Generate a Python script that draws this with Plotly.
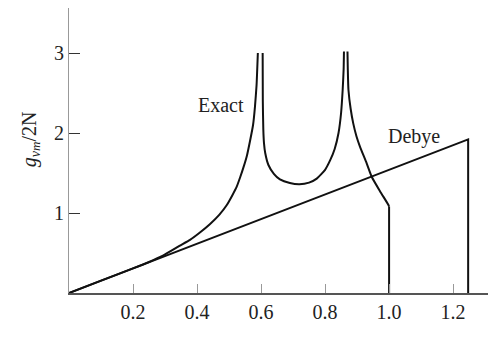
import plotly.graph_objects as go

# Exact spectrum: three branches
exact1_x = [0.0, 0.10, 0.20, 0.25, 0.29, 0.316, 0.345, 0.378, 0.41, 0.44, 0.47, 0.493, 0.51, 0.524, 0.535, 0.545, 0.556, 0.566, 0.575, 0.581, 0.586, 0.590]
exact1_y = [0.0, 0.154, 0.308, 0.388, 0.46, 0.52, 0.59, 0.665, 0.76, 0.86, 0.98, 1.10, 1.22, 1.33, 1.45, 1.57, 1.72, 1.91, 2.10, 2.33, 2.60, 3.0]

exact2_x = [0.605, 0.6055, 0.607, 0.609, 0.613, 0.623, 0.640, 0.659, 0.690, 0.720, 0.750, 0.774, 0.800, 0.816, 0.830, 0.842, 0.850, 0.855, 0.858, 0.859]
exact2_y = [3.0, 2.40, 2.05, 1.88, 1.75, 1.60, 1.49, 1.42, 1.375, 1.36, 1.38, 1.43, 1.54, 1.66, 1.80, 2.0, 2.25, 2.54, 2.80, 3.02]

exact3_x = [0.870, 0.871, 0.873, 0.880, 0.888, 0.898, 0.909, 0.930, 0.946, 0.972, 0.998, 1.0]
exact3_y = [3.02, 2.80, 2.54, 2.30, 2.12, 1.96, 1.83, 1.62, 1.45, 1.27, 1.10, 1.08]

# Debye spectrum
debye_x = [0.0, 1.247, 1.247]
debye_y = [0.0, 1.92, 0.0]

x_ticks = [0.2, 0.4, 0.6, 0.8, 1.0, 1.2]
x_tick_text = ["0.2", "0.4", "0.6", "0.8", "1.0", "1.2"]
y_ticks = [1, 2, 3]
y_tick_text = ["1", "2", "3"]

FONT = "Liberation Serif"
INK = "#111111"
LW = 2.0

fig = go.Figure()
for xs, ys in [(exact1_x, exact1_y), (exact2_x, exact2_y), (exact3_x, exact3_y)]:
    fig.add_trace(go.Scatter(x=xs, y=ys, mode="lines",
                             line=dict(color=INK, width=LW, shape="spline", smoothing=0.5),
                             showlegend=False, hoverinfo="skip"))
# vertical drop of the exact curve at its cutoff
fig.add_trace(go.Scatter(x=[exact3_x[-1], exact3_x[-1]], y=[exact3_y[-1], 0],
                         mode="lines", line=dict(color=INK, width=LW),
                         showlegend=False, hoverinfo="skip"))
fig.add_trace(go.Scatter(x=debye_x, y=debye_y, mode="lines",
                         line=dict(color=INK, width=LW),
                         showlegend=False, hoverinfo="skip"))

fig.add_annotation(x=0.475, y=2.35, text="Exact", showarrow=False,
                   font=dict(family=FONT, size=20, color="#222"), xanchor="center", yanchor="middle")
fig.add_annotation(x=1.078, y=1.96, text="Debye", showarrow=False,
                   font=dict(family=FONT, size=20, color="#222"), xanchor="center", yanchor="middle")

fig.add_annotation(xref="paper", yref="paper", x=-0.093, y=0.54,
                   text="<i>g</i><sub><i>ν</i><span style='font-size:13px'><i>m</i></span></sub>/2N",
                   textangle=-90, showarrow=False,
                   font=dict(family=FONT, size=20, color="#222"), xanchor="center", yanchor="middle")
fig.add_annotation(x=0.606, y=-0.74, text="<i>ν</i> / <i>ν</i><sub><i>m</i></sub>",
                   showarrow=False, font=dict(family=FONT, size=18, color="#222"),
                   xanchor="center", yanchor="middle")

fig.update_layout(
    width=488, height=358,
    margin=dict(l=69, r=0, t=8, b=65),
    paper_bgcolor="white", plot_bgcolor="white",
    xaxis=dict(range=[0, 1.309], tickvals=x_ticks, ticktext=x_tick_text,
               ticks="inside", ticklen=9, tickcolor="#999", tickwidth=1,
               showline=True, linecolor="#555", linewidth=1.5,
               showgrid=False, zeroline=False,
               tickfont=dict(family=FONT, size=20, color="#222")),
    yaxis=dict(range=[0, 3.5625], tickvals=y_ticks, ticktext=y_tick_text,
               ticks="inside", ticklen=11, tickcolor="#333", tickwidth=1,
               showline=True, linecolor="#999", linewidth=1,
               showgrid=False, zeroline=False,
               tickfont=dict(family=FONT, size=20, color="#222")),
)

fig.write_html("out.html")
